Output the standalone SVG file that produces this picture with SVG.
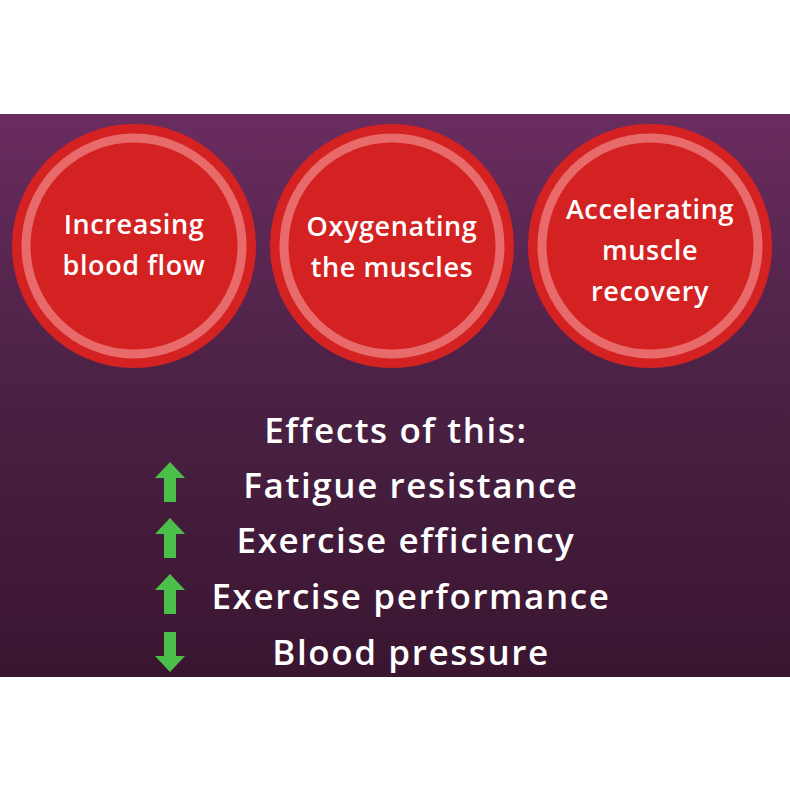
<svg xmlns="http://www.w3.org/2000/svg" width="790" height="790" viewBox="0 0 790 790">
<defs>
<linearGradient id="bg" x1="0" y1="0" x2="0" y2="1"><stop offset="0" stop-color="#6a2c5f"/><stop offset="0.5" stop-color="#4a2144"/><stop offset="1" stop-color="#3a1530"/></linearGradient>
<path id="up" d="M0,-20 L15,-4 L6,-4 L6,20 L-6,20 L-6,-4 L-15,-4 Z" fill="#4cbf4a"/>
</defs>
<style>
.c{fill:#d42222}.r{fill:none;stroke:#e86a6a;stroke-width:9}
.t{font-family:"Open Sans",Lato,sans-serif;font-weight:600;fill:#fff;text-anchor:middle}
.ct{font-size:27px;letter-spacing:0.6px}.et{font-size:35px;letter-spacing:1.6px}
</style>
<rect width="790" height="790" fill="#fff"/>
<rect x="0" y="114" width="790" height="563" fill="url(#bg)"/>
<g id="n1"><circle class="c" cx="134" cy="246" r="122"/><circle class="r" cx="134" cy="246" r="108"/>
<text class="t ct" x="134" y="234">Increasing</text><text class="t ct" x="134" y="275">blood flow</text></g>
<g id="n2"><circle class="c" cx="392" cy="246" r="122"/><circle class="r" cx="392" cy="246" r="108"/>
<text class="t ct" x="392" y="236">Oxygenating</text><text class="t ct" x="392" y="277">the muscles</text></g>
<g id="n3"><circle class="c" cx="650" cy="246" r="122"/><circle class="r" cx="650" cy="246" r="108"/>
<text class="t ct" x="650" y="219">Accelerating</text><text class="t ct" x="650" y="260">muscle</text><text class="t ct" x="650" y="301">recovery</text></g>
<g id="effects">
<text class="t et" x="396" y="443">Effects of this:</text>
<text class="t et" x="411" y="498">Fatigue resistance</text>
<text class="t et" x="406" y="553">Exercise efficiency</text>
<text class="t et" x="411" y="609">Exercise performance</text>
<text class="t et" x="411" y="665">Blood pressure</text>
<use href="#up" x="170" y="482"/><use href="#up" x="170" y="538"/><use href="#up" x="170" y="594"/>
<use href="#up" transform="translate(170,652) rotate(180)"/>
</g>
</svg>
